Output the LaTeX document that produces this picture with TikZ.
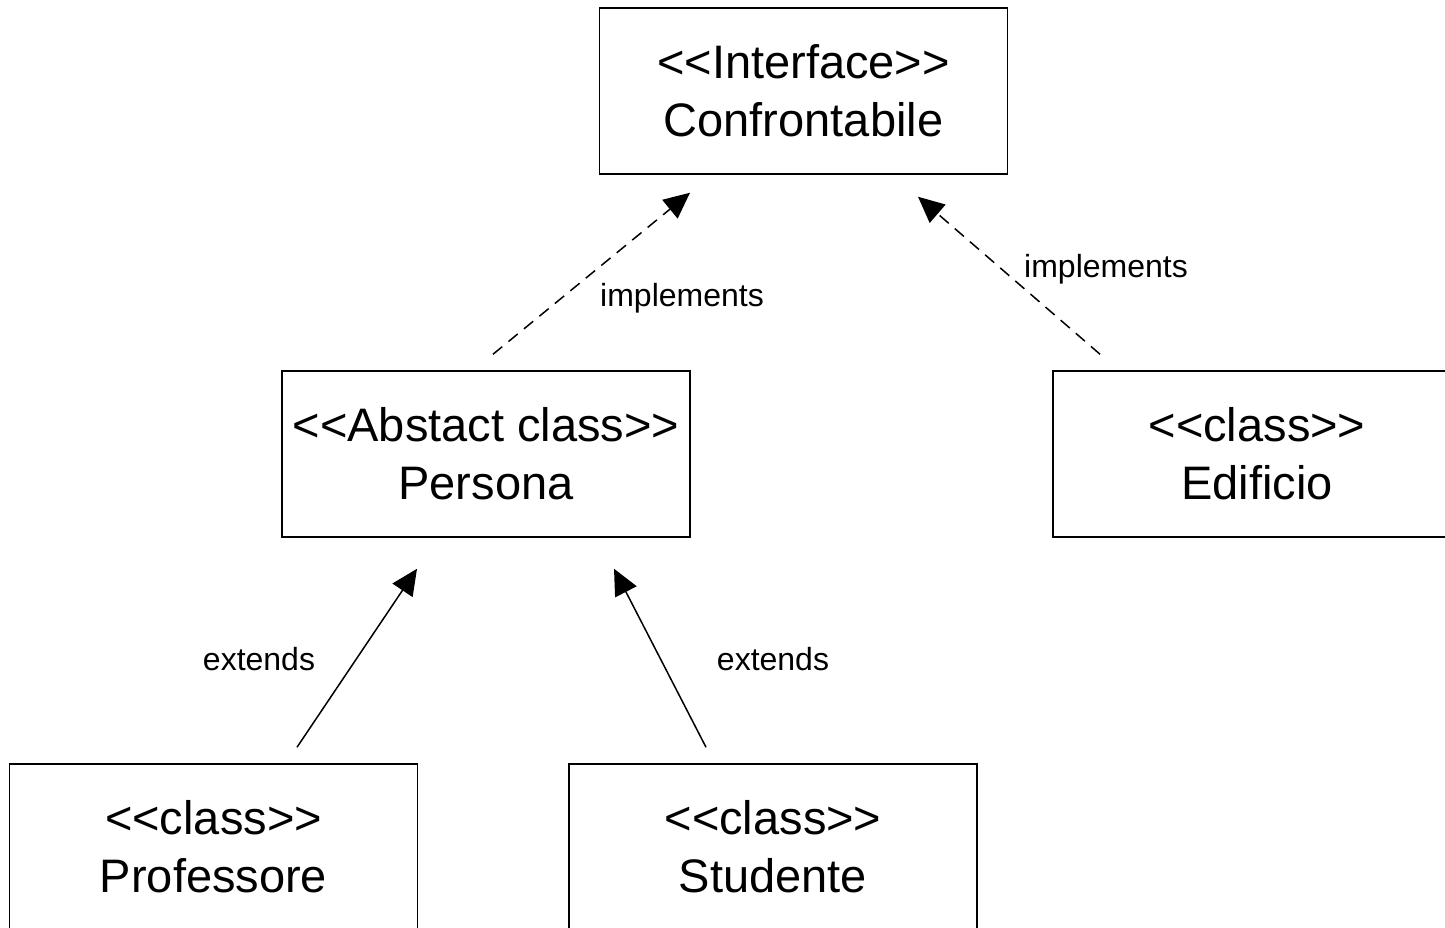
\documentclass[tikz,border=0pt]{standalone}
\usepackage{fontspec}
\setmainfont{Liberation Sans}
\usetikzlibrary{arrows.meta}
\begin{document}
\begin{tikzpicture}[x=1pt,y=1pt,
  umlbox/.style={draw,line width=1.5pt,minimum width=408pt,minimum height=166pt,inner sep=0pt,align=center,font=\fontsize{47}{58}\selectfont},
  lbl/.style={font=\fontsize{32}{38}\selectfont,inner sep=0pt},
  impl/.style={line width=1.5pt,dash pattern=on 12pt off 8pt,-{Triangle[length=26pt,width=24pt]}},
  ext/.style={line width=1.5pt,-{Triangle[length=26pt,width=24pt]}}]
\useasboundingbox (0,0) rectangle (1445,928);
\clip (0,0) rectangle (1445,928);
\fill[white] (0,0) rectangle (1445,928);
\node[umlbox] (conf) at (803.5,837) {<{}<Interface>{}>\\Confrontabile};
\node[umlbox] (pers) at (486,474) {<{}<Abstact class>{}>\\Persona};
\node[umlbox] (edif) at (1257,474) {<{}<class>{}>\\Edificio};
\node[umlbox] (prof) at (213.5,81) {<{}<class>{}>\\Professore};
\node[umlbox] (stud) at (773,81) {<{}<class>{}>\\Studente};
\draw[impl] ([xshift=7pt,yshift=16pt]pers.north) -- ([xshift=-113.5pt,yshift=-18pt]conf.south);
\draw[impl] ([xshift=-157pt,yshift=16pt]edif.north) -- ([xshift=114.5pt,yshift=-22pt]conf.south);
\draw[ext] ([xshift=83.5pt,yshift=16pt]prof.north) -- ([xshift=-69pt,yshift=-31pt]pers.south);
\draw[ext] ([xshift=-67pt,yshift=16pt]stud.north) -- ([xshift=128pt,yshift=-31pt]pers.south);
\node[lbl] (l1) at (682,630) {implements};
\node[lbl] (l2) at (1106,659) {implements};
\node[lbl] (l3) at (259,269) {extends};
\node[lbl] (l4) at (773,269) {extends};
\end{tikzpicture}
\end{document}
